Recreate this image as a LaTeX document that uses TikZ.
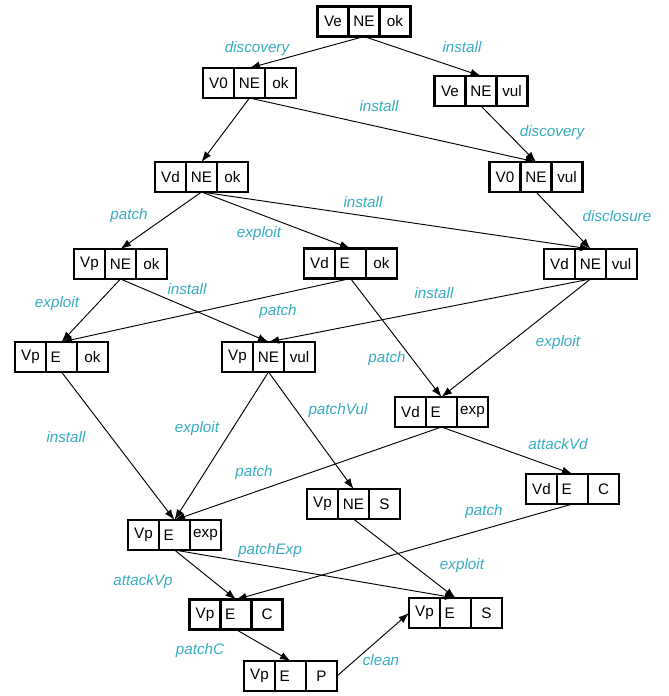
\documentclass[tikz,border=0pt]{standalone}
\usepackage{fontspec}
\setmainfont{Liberation Sans}
\usetikzlibrary{positioning,arrows.meta}
\definecolor{labelcyan}{RGB}{56,172,192}
% one state = three cells, the middle one carries the name
\newcommand{\vstate}[5]{%
  \node [cell] (#1) at (#2) {#4};
  \node [cell, left=0pt of #1] (#1-l) {#3};
  \node [cell, right=0pt of #1] (#1-r) {#5};
}

\begin{document}
\begin{tikzpicture}[x=0.03cm, y=-0.03cm,
  cell/.style={draw, line width=2pt, minimum width=0.93cm, minimum height=0.9cm,
    inner sep=0pt, outer sep=0pt, font=\fontsize{13}{15}\selectfont},
  lbl/.style={text=labelcyan, font=\fontsize{13}{15}\selectfont\itshape},
  trans/.style={-{Latex[length=9pt,width=6.5pt]}, line width=0.8pt}]
\useasboundingbox (0,0) rectangle (668,696);
%
\vstate{VeNEok}{364,21.5}{Ve}{NE}{ok}
\vstate{V0NEok}{249.5,83}{V0}{NE}{ok}
\vstate{VeNEvul}{481,91}{Ve}{NE}{vul}
\vstate{V0NEvul}{536,177}{V0}{NE}{vul}
\vstate{VdNEok}{201.5,177}{Vd}{NE}{ok}
\vstate{VpNEok}{120.5,264}{Vp}{NE}{ok}
\vstate{VdEok}{350.5,263.5}{Vd}{E\hspace*{10pt}}{ok}
\vstate{VdNEvul}{590.5,264}{Vd}{NE}{vul}
\vstate{VpEok}{61.5,357}{Vp}{E\hspace*{10pt}}{ok}
\vstate{VpNEvul}{268.5,357}{Vp}{NE}{vul}
\vstate{VdEexp}{441.5,412}{Vd}{E\hspace*{10pt}}{exp}
\vstate{VdEC}{572.5,489}{Vd}{E\hspace*{10pt}}{C}
\vstate{VpNES}{353.5,504}{Vp}{NE}{S}
\vstate{VpEexp}{174.5,535}{Vp}{E\hspace*{10pt}}{exp}
\vstate{VpEC}{236,614.5}{Vp}{E\hspace*{10pt}}{C}
\vstate{VpES}{455.5,613}{Vp}{E\hspace*{10pt}}{S}
\vstate{VpEP}{290.5,676}{Vp}{E\hspace*{10pt}}{P}
%
\draw [trans] (VeNEok.south) -- (V0NEok.north);
\draw [trans] (VeNEok.south) -- (VeNEvul.north);
\draw [trans] (V0NEok.south) -- (VdNEok.north);
\draw [trans] (V0NEok.south) -- (V0NEvul.north);
\draw [trans] (VeNEvul.south) -- (V0NEvul.north);
\draw [trans] (VdNEok.south) -- (VpNEok.north);
\draw [trans] (VdNEok.south) -- (VdEok.north);
\draw [trans] (VdNEok.south) -- (VdNEvul.north);
\draw [trans] (V0NEvul.south) -- (VdNEvul.north);
\draw [trans] (VpNEok.south) -- (VpEok.north);
\draw [trans] (VpNEok.south) -- (VpNEvul.north);
\draw [trans] (VdEok.south) -- (VpEok.north);
\draw [trans] (VdNEvul.south) -- (VpNEvul.north);
\draw [trans] (VdEok.south) -- (VdEexp.north);
\draw [trans] (VdNEvul.south) -- (VdEexp.north);
\draw [trans] (VpEok.south) -- (VpEexp.north);
\draw [trans] (VpNEvul.south) -- (VpEexp.north);
\draw [trans] (VpNEvul.south) -- (VpNES.north);
\draw [trans] (VdEexp.south) -- (VpEexp.north);
\draw [trans] (VdEexp.south) -- (VdEC.north);
\draw [trans] (VpEexp.south) -- (VpEC.north);
\draw [trans] (VpEexp.south) -- (VpES.north);
\draw [trans] (VdEC.south) -- (VpEC.north);
\draw [trans] (VpNES.south) -- (VpES.north);
\draw [trans] (VpEC.south) -- (VpEP.north);
\draw [trans] (VpEP-r.east) -- (VpES-l.west);
%
\node [lbl] (l-disc1) at (257,49) {discovery};
\node [lbl] (l-inst1) at (462,47) {install};
\node [lbl] (l-inst2) at (379,106) {install};
\node [lbl] (l-disc2) at (552,133) {discovery};
\node [lbl] (l-discl) at (617,216) {disclosure};
\node [lbl] (l-inst3) at (363,202) {install};
\node [lbl] (l-patch1) at (129,216) {patch};
\node [lbl] (l-expl1) at (259,234) {exploit};
\node [lbl] (l-expl2) at (57,304) {exploit};
\node [lbl] (l-inst4) at (187,289) {install};
\node [lbl] (l-patch2) at (278,312) {patch};
\node [lbl] (l-inst5) at (434,293) {install};
\node [lbl] (l-patch3) at (387,359) {patch};
\node [lbl] (l-expl3) at (558,343) {exploit};
\node [lbl] (l-pvul) at (338,411) {patchVul};
\node [lbl] (l-inst6) at (66,437) {install};
\node [lbl] (l-expl4) at (197,429) {exploit};
\node [lbl] (l-attvd) at (558,444) {attackVd};
\node [lbl] (l-patch4) at (254,473) {patch};
\node [lbl] (l-patch5) at (484,512) {patch};
\node [lbl] (l-pexp) at (270,551) {patchExp};
\node [lbl] (l-expl5) at (462,566) {exploit};
\node [lbl] (l-attvp) at (143,582) {attackVp};
\node [lbl] (l-pc) at (200,651) {patchC};
\node [lbl] (l-clean) at (381,660) {clean};
%
\end{tikzpicture}
\end{document}
